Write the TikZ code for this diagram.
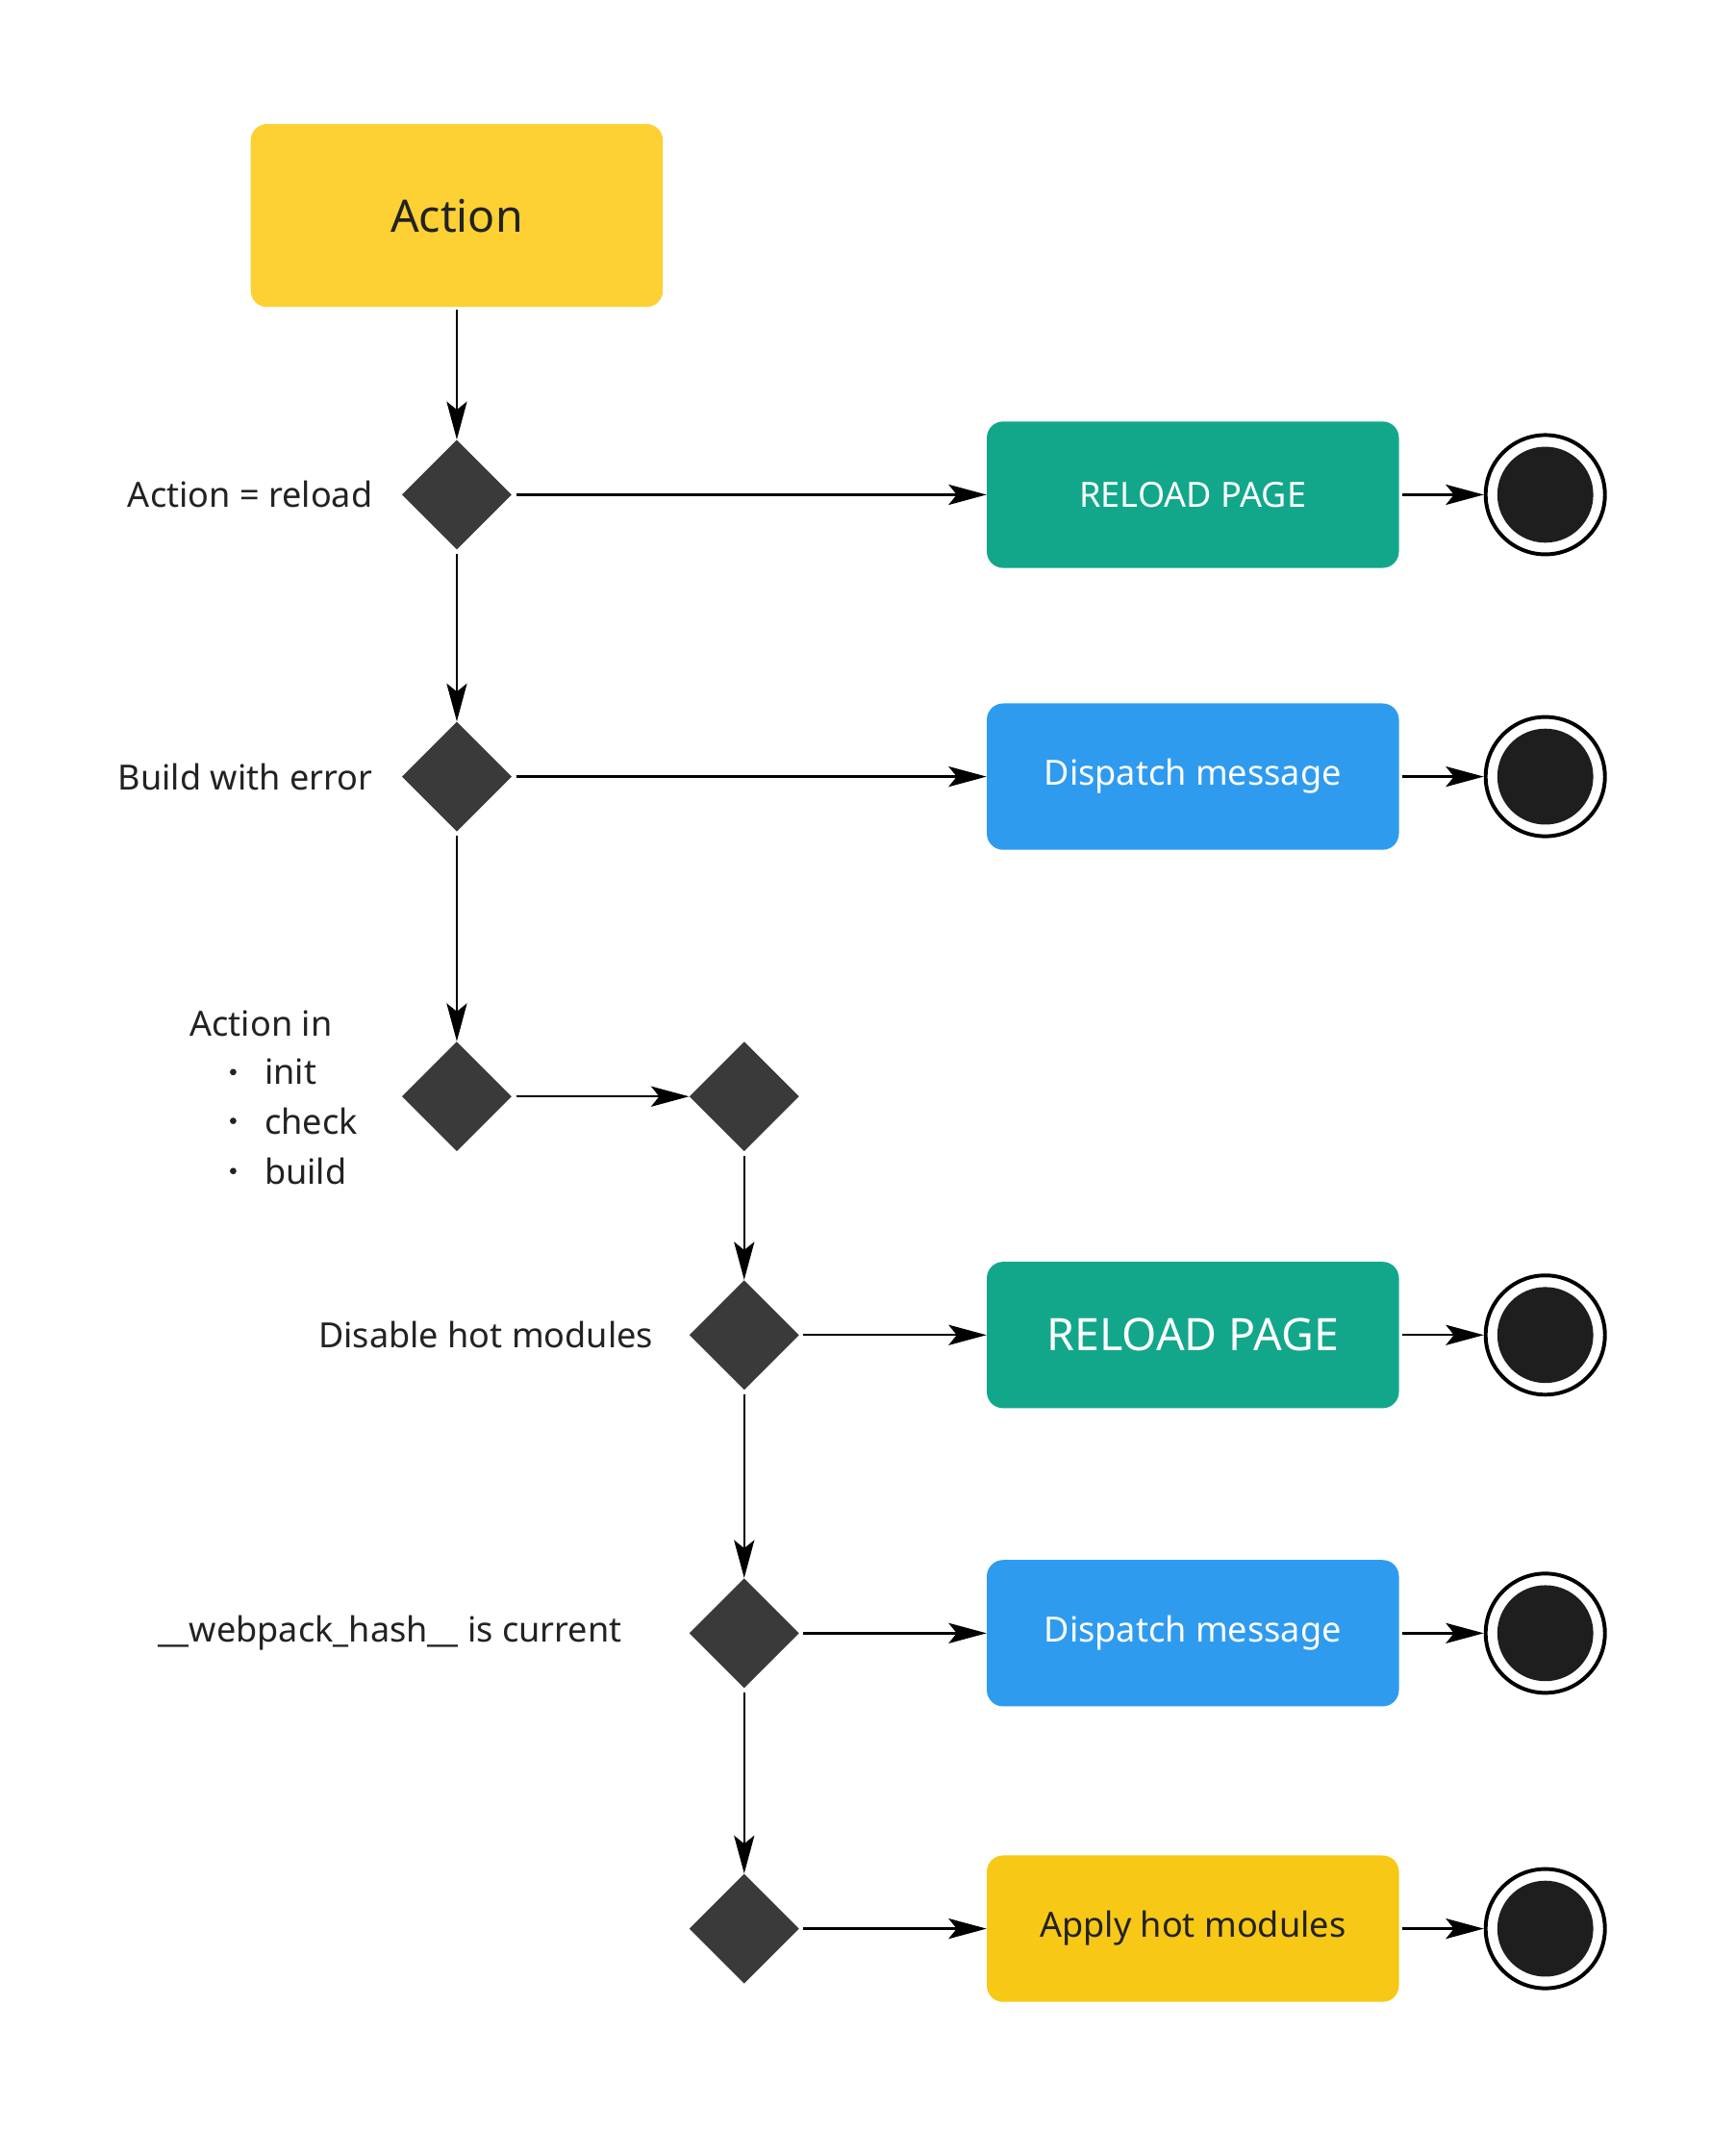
\documentclass[tikz,border=0pt]{standalone}
\usepackage{fontspec}
\setmainfont{Noto Sans}
\usetikzlibrary{shapes.geometric,arrows.meta}
\definecolor{actyellow}{RGB}{253,208,51}
\definecolor{applyyellow}{RGB}{247,200,21}
\definecolor{reloadgreen}{RGB}{18,167,138}
\definecolor{dispatchblue}{RGB}{47,155,239}
\definecolor{diamfill}{RGB}{58,58,58}
\definecolor{endfill}{RGB}{30,30,30}
\definecolor{labeltext}{RGB}{34,34,34}

\begin{document}
\begin{tikzpicture}[x=1pt,y=-1pt,
  decision/.style={diamond,fill=diamfill,minimum width=81pt,minimum height=81pt,inner sep=0pt},
  box/.style={rounded corners=12pt,minimum width=304pt,minimum height=108pt,text=white,font=\fontsize{25.6}{30}\selectfont},
  endstate/.style={circle,draw=black,line width=2.8pt,minimum size=88pt,inner sep=0pt,
    path picture={\fill[endfill] (path picture bounding box.center) circle (35.4pt);}},
  lbl/.style={text=labeltext,font=\fontsize{25.6}{30}\selectfont,inner sep=0pt},
  flow/.style={-{Stealth[length=28pt,width=15pt,inset=6pt]},line width=1.7pt}
]
\useasboundingbox (0,0) rectangle (1280,1572.3);

%draw start box
\node[box,fill=actyellow,minimum height=135pt,text=labeltext,font=\fontsize{33}{38}\selectfont] (act) at (337,159) {Action};

%draw decisions
\node[decision] (reload) at (337,365) {};
\node[decision] (builderr) at (337,573) {};
\node[decision] (actin) at (337,809) {};
\node[decision] (join) at (549,809) {};
\node[decision] (disable) at (549,985) {};
\node[decision] (hash) at (549,1205) {};
\node[decision] (apply) at (549,1423) {};

%draw labels
\node[lbl,anchor=east] (lreload) at (275,365) {Action = reload};
\node[lbl,anchor=east] (lbuilderr) at (275,573) {Build with error};
\node[lbl,anchor=west] (lactin) at (140,755) {Action in};
\foreach \t/\y in {init/791,check/827,build/864}{
   \fill[labeltext] (172,\y) circle (2.4pt);
   \node[lbl,anchor=west] (l\t) at (195,\y) {\t};
}
\node[lbl,anchor=east] (ldisable) at (482,985) {Disable hot modules};
\node[lbl,anchor=east] (lhash) at (459,1205) {\_\_webpack\_hash\_\_ is current};

%draw action boxes
\node[box,fill=reloadgreen] (rpA) at (880,365) {RELOAD PAGE};
\node[box,fill=dispatchblue] (dmA) at (880,573) {Dispatch message};
\node[box,fill=reloadgreen,font=\fontsize{33}{38}\selectfont] (rpB) at (880,985) {RELOAD PAGE};
\node[box,fill=dispatchblue] (dmB) at (880,1205) {Dispatch message};
\node[box,fill=applyyellow,text=labeltext] (ahm) at (880,1423) {Apply hot modules};

%draw end states
\foreach \n/\y in {A/365,B/573,C/985,D/1205,E/1423}{
   \node[endstate] (end\n) at (1140,\y) {};
}

%draw vertical flow
\draw[flow,shorten <=2pt] (act.south) -- (reload.north);
\draw[flow,shorten <=3pt] (reload.south) -- (builderr.north);
\draw[flow,shorten <=3pt] (builderr.south) -- (actin.north);
\draw[flow,shorten <=3pt] (join.south) -- (disable.north);
\draw[flow,shorten <=3pt] (disable.south) -- (hash.north);
\draw[flow,shorten <=3pt] (hash.south) -- (apply.north);

%draw horizontal flow
\draw[flow,shorten <=3pt] (reload.east) -- (rpA.west);
\draw[flow,shorten <=3pt] (builderr.east) -- (dmA.west);
\draw[flow,shorten <=3pt] (actin.east) -- (join.west);
\draw[flow,shorten <=3pt] (disable.east) -- (rpB.west);
\draw[flow,shorten <=3pt] (hash.east) -- (dmB.west);
\draw[flow,shorten <=3pt] (apply.east) -- (ahm.west);

%draw arrows to end states
\draw[flow,shorten <=2pt] (rpA.east) -- (endA.west);
\draw[flow,shorten <=2pt] (dmA.east) -- (endB.west);
\draw[flow,shorten <=2pt] (rpB.east) -- (endC.west);
\draw[flow,shorten <=2pt] (dmB.east) -- (endD.west);
\draw[flow,shorten <=2pt] (ahm.east) -- (endE.west);
\end{tikzpicture}
\end{document}
